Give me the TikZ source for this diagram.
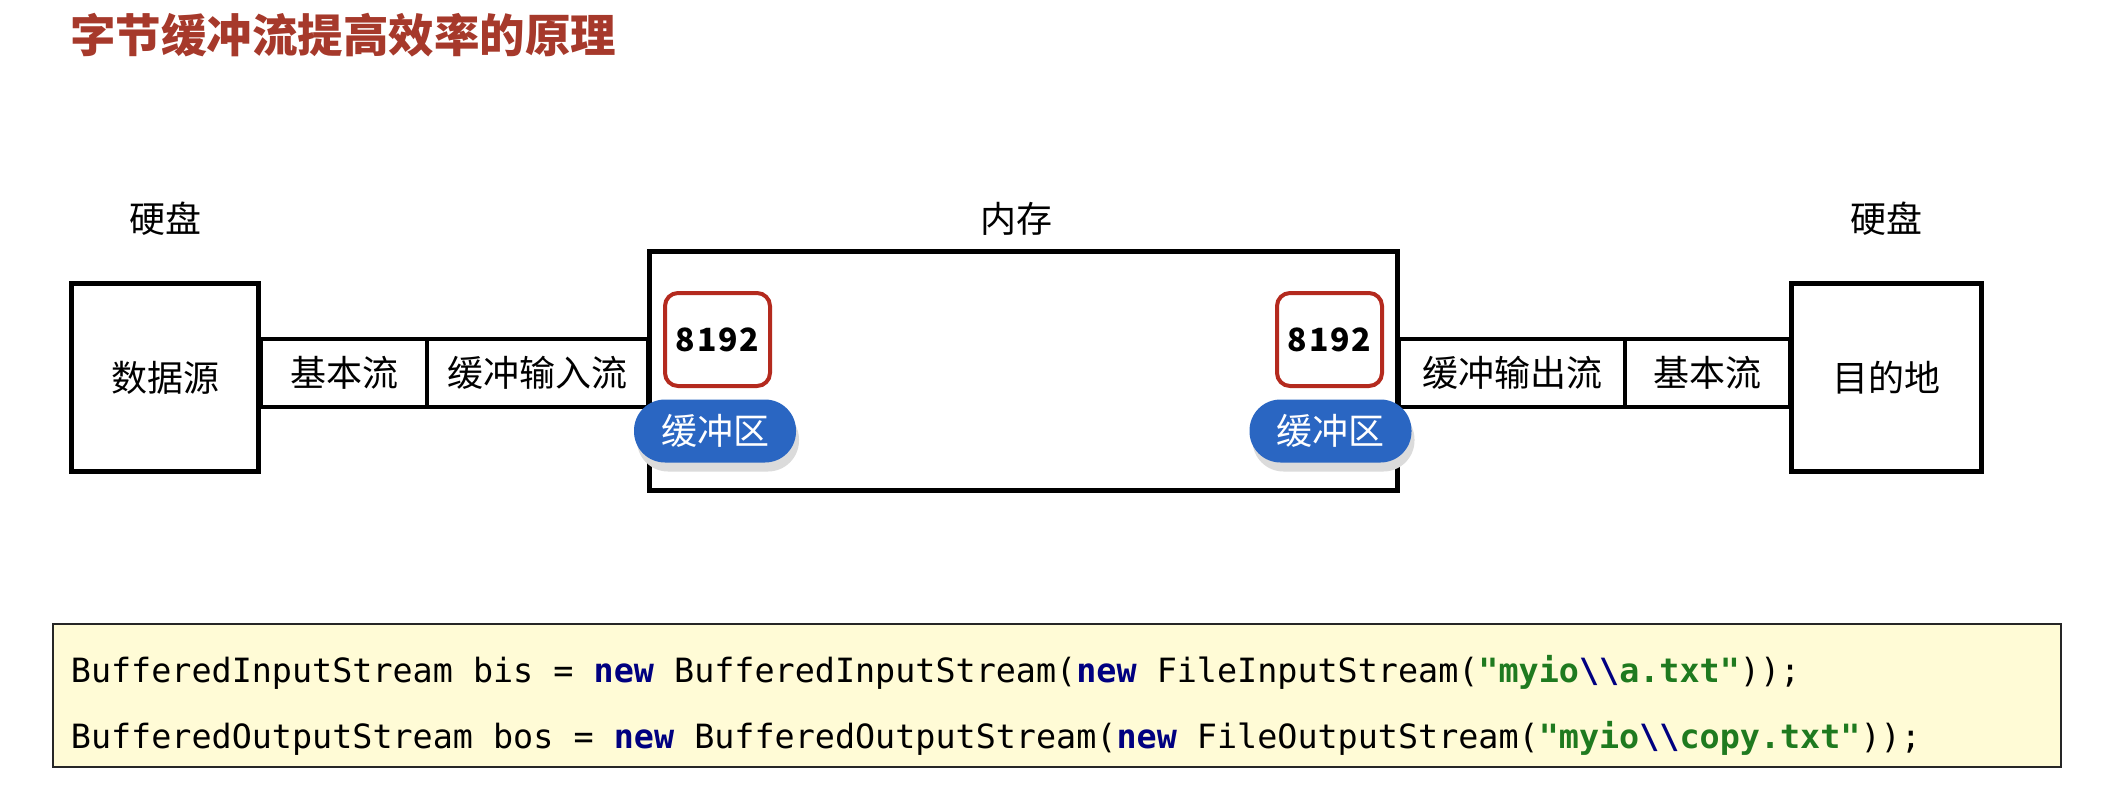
\documentclass[tikz,border=0pt]{standalone}
\usepackage{fontspec}
\setmainfont{Noto Sans CJK SC}
\newfontfamily\codefont{DejaVu Sans Mono}
\newfontfamily\numfont{Noto Sans CJK SC}[LetterSpace=6]
\usetikzlibrary{shadows}

\definecolor{titlered}{HTML}{A6392B}
\definecolor{numred}{HTML}{B42A1E}
\definecolor{pillblue}{HTML}{2A66C2}
\definecolor{codebg}{HTML}{FFFBD6}
\definecolor{kwnavy}{HTML}{000080}
\definecolor{strgreen}{HTML}{1F7A1F}

\newcommand\kw[1]{\textcolor{kwnavy}{\bfseries #1}}
\newcommand\strlit[1]{\textcolor{strgreen}{\bfseries #1}}

\begin{document}
\begin{tikzpicture}[x=1pt,y=-1pt,
  box/.style={draw,line width=4.5pt,inner sep=0pt,font=\fontsize{36}{40}\selectfont},
  cell/.style={box,minimum height=68pt},
  numbox/.style={draw=numred,fill=white,line width=4pt,rounded corners=13pt,
    minimum width=105pt,minimum height=93pt,inner sep=0pt,
    font=\fontsize{32}{36}\numfont\bfseries},
  pill/.style={fill=pillblue,text=white,rounded corners=31pt,
    minimum width=162pt,minimum height=63pt,inner sep=0pt,
    font=\fontsize{36}{40}\selectfont,
    drop shadow={shadow xshift=3pt,shadow yshift=-9pt,fill=black!14,opacity=1}},
  lbl/.style={inner sep=0pt,font=\fontsize{36}{40}\selectfont},
  codeline/.style={anchor=base west,inner sep=0pt,font=\fontsize{33.4}{36}\codefont}]
\useasboundingbox (0,0) rectangle (2118,792);
\fill[white] (0,0) rectangle (2118,792);

% 标题
\node[anchor=west,inner sep=0pt,text=titlered,font=\fontsize{45.5}{50}\selectfont\bfseries]
  (title) at (70,35) {字节缓冲流提高效率的原理};

% 内存
\node[box,minimum width=748pt,minimum height=239pt] (mem) at (1023.5,371) {};
\node[lbl] (memlbl) at (1016,219) {内存};

% 左边: 硬盘 -> 内存
\node[box,minimum width=187pt,minimum height=188pt] (src) at (165,377.5) {数据源};
\node[lbl] (hdd1) at (165,219) {硬盘};
\node[cell,minimum width=166pt] (basic1) at (344,373) {基本流};
\node[cell,minimum width=221pt] (bufin) at (537.5,373) {缓冲输入流};

% 右边: 内存 -> 硬盘
\node[cell,minimum width=226pt] (bufout) at (1512,373) {缓冲输出流};
\node[cell,minimum width=165pt] (basic2) at (1707.5,373) {基本流};
\node[box,minimum width=190pt,minimum height=188pt] (dest) at (1886.5,377.5) {目的地};
\node[lbl] (hdd2) at (1886,219) {硬盘};

% 缓冲区
\node[numbox] (num1) at (717.5,339.5) {8192};
\node[pill] (area1) at (715,431) {缓冲区};
\node[numbox] (num2) at (1329.5,339.5) {8192};
\node[pill] (area2) at (1330.5,431) {缓冲区};

% 代码
\node[draw=black!85,line width=2pt,fill=codebg,minimum width=2008pt,minimum height=143pt]
  (code) at (1056.8,695.5) {};
\node[codeline] (line1) at (70.7,682) {BufferedInputStream bis = \kw{new} BufferedInputStream(\kw{new} FileInputStream(\strlit{"myio}\kw{\textbackslash\textbackslash}\strlit{a.txt"}));};
\node[codeline] (line2) at (70.7,748) {BufferedOutputStream bos = \kw{new} BufferedOutputStream(\kw{new} FileOutputStream(\strlit{"myio}\kw{\textbackslash\textbackslash}\strlit{copy.txt"}));};
\end{tikzpicture}
\end{document}
